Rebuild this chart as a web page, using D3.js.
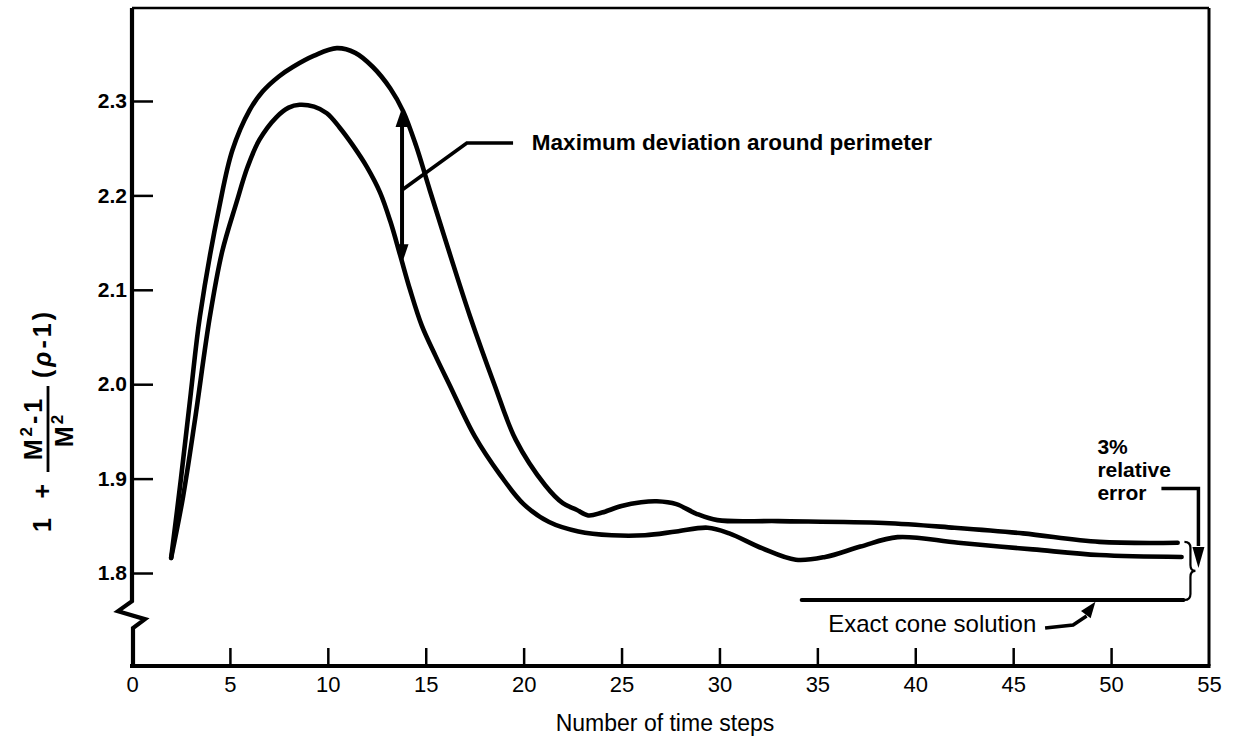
<!DOCTYPE html>
<html><head><meta charset="utf-8">
<script src="https://cdn.jsdelivr.net/npm/d3@7"></script>
<style>
body{margin:0;background:#fff}
svg{display:block}
text{font-family:"Liberation Sans",Arial,Helvetica,sans-serif;fill:#000}
</style>
</head><body>
<svg id="chart" width="1233" height="741"></svg>
<script>
// ---------------- data ----------------
const xTicks = [0, 5, 10, 15, 20, 25, 30, 35, 40, 45, 50, 55];
const yTicks = [1.8, 1.9, 2.0, 2.1, 2.2, 2.3];
const yTickLabels = ["1.8", "1.9", "2.0", "2.1", "2.2", "2.3"];

// upper curve (maximum around perimeter)
const upperX = [2.0, 2.5, 3.0, 3.47, 4.46, 5.13, 6.0, 6.67, 7.5, 8.21, 9.3, 10.46, 11.4, 12.3, 13.2, 13.85, 14.5, 15.2, 16.2, 17.26, 18.5, 19.6, 21.1, 22.0, 22.7, 23.3, 24.0, 25.0, 26.0, 26.8, 27.8, 28.8, 29.9, 33.0, 38.4, 42.0, 45.5, 49.4, 53.4];
const upperY = [1.816, 1.9, 1.99, 2.072, 2.188, 2.248, 2.29, 2.31, 2.326, 2.336, 2.348, 2.356, 2.351, 2.336, 2.313, 2.289, 2.253, 2.206, 2.14, 2.072, 2.0, 1.941, 1.893, 1.874, 1.867, 1.861, 1.864, 1.871, 1.875, 1.876, 1.873, 1.863, 1.856, 1.855, 1.853, 1.848, 1.842, 1.833, 1.832];

// lower curve (minimum around perimeter)
const lowerX = [2.0, 2.6, 3.2, 3.98, 4.6, 5.33, 5.9, 6.51, 7.38, 8.0, 8.56, 9.3, 9.95, 10.6, 11.28, 12.0, 12.67, 13.2, 13.69, 14.2, 14.8, 15.5, 16.2, 17.5, 18.8, 20.0, 21.3, 22.8, 24.5, 26.2, 27.8, 29.4, 30.5, 32.2, 33.9, 35.4, 37.2, 39.1, 42.2, 46.0, 49.4, 53.6];
const lowerY = [1.816, 1.88, 1.96, 2.072, 2.14, 2.192, 2.23, 2.259, 2.283, 2.293, 2.296, 2.294, 2.287, 2.272, 2.253, 2.23, 2.203, 2.172, 2.137, 2.1, 2.062, 2.03, 2.0, 1.945, 1.904, 1.873, 1.854, 1.844, 1.840, 1.840, 1.844, 1.848, 1.842, 1.826, 1.814, 1.817, 1.828, 1.838, 1.832, 1.825, 1.819, 1.817];

// exact cone solution
const exactValue = 1.7714;
const exactFrom = 34.2, exactTo = 53.7;

// annotation texts
const xTitle = "Number of time steps";
const devLabel = "Maximum deviation around perimeter";
const errLabel = ["3%", "relative", "error"];
const exactLabel = "Exact cone solution";

// ---------------- drawing ----------------
const svg = d3.select("#chart");
const x = d3.scaleLinear().domain([0, 55]).range([132, 1209]);
const y = d3.scaleLinear().domain([1.7015, 2.3985]).range([666, 8]);

const ink = "#000";

// frame
svg.append("line").attr("x1", x(0)).attr("x2", x(55)).attr("y1", y(2.3985)).attr("y2", y(2.3985))
  .attr("stroke", ink).attr("stroke-width", 2.5);
svg.append("line").attr("x1", x(55)).attr("x2", x(55)).attr("y1", y(2.3985)).attr("y2", y(1.7015))
  .attr("stroke", ink).attr("stroke-width", 3);
svg.append("line").attr("x1", x(0) - 2).attr("x2", x(55) + 1.5).attr("y1", y(1.7015)).attr("y2", y(1.7015))
  .attr("stroke", ink).attr("stroke-width", 4);
// left axis with break
const x0 = x(0);
svg.append("path")
  .attr("d", `M${x0},${y(2.3985)} V${y(1.7702)} L${x0 - 14},${y(1.7596)} L${x0 + 13},${y(1.7511)} L${x0 + 1},${y(1.7416)} V${y(1.7015)}`)
  .attr("fill", "none").attr("stroke", ink).attr("stroke-width", 4.2).attr("stroke-linejoin", "miter");

// axes (ticks inward)
const gx = svg.append("g").attr("transform", `translate(0,${y(1.7015)})`)
  .call(d3.axisBottom(x).tickValues(xTicks).tickSize(-18).tickPadding(10).tickFormat(d3.format("d")));
gx.select(".domain").remove();
gx.selectAll(".tick line").attr("stroke", ink).attr("stroke-width", 2.5);
gx.selectAll(".tick text").attr("font-size", 22).attr("font-family", "Liberation Sans, Arial, sans-serif").attr("fill", ink);
gx.selectAll(".tick").filter(d => d === 0 || d === 55).select("line").remove();

const gy = svg.append("g").attr("transform", `translate(${x0},0)`)
  .call(d3.axisLeft(y).tickValues(yTicks).tickSize(-21).tickPadding(5).tickFormat((d, i) => yTickLabels[i]));
gy.select(".domain").remove();
gy.selectAll(".tick line").attr("stroke", ink).attr("stroke-width", 2.5);
gy.selectAll(".tick text").attr("font-size", 21).attr("font-weight", "bold").attr("font-family", "Liberation Sans, Arial, sans-serif").attr("fill", ink);

// curves
const line = d3.line().x(d => x(d[0])).y(d => y(d[1])).curve(d3.curveCatmullRom.alpha(0.5));
const upper = upperX.map((v, i) => [v, upperY[i]]);
const lower = lowerX.map((v, i) => [v, lowerY[i]]);
[upper, lower].forEach(s => {
  svg.append("path").datum(s).attr("d", line)
    .attr("fill", "none").attr("stroke", ink).attr("stroke-width", 4.6)
    .attr("stroke-linecap", "round").attr("stroke-linejoin", "round");
});

// exact cone solution line
svg.append("line").attr("x1", x(exactFrom)).attr("x2", x(exactTo)).attr("y1", y(exactValue)).attr("y2", y(exactValue))
  .attr("stroke", ink).attr("stroke-width", 4).attr("stroke-linecap", "round");

// arrowhead helper
function head(tx, ty, dx, dy, len, half) {
  const m = Math.hypot(dx, dy), ux = dx / m, uy = dy / m;
  const bx = tx - ux * len, by = ty - uy * len;
  svg.append("path")
    .attr("d", `M${tx},${ty} L${bx - uy * half},${by + ux * half} L${bx + uy * half},${by - ux * half} Z`)
    .attr("fill", ink);
}

// maximum deviation double arrow
const ax = x(13.79), aTop = y(2.2926), aBot = y(2.128);
svg.append("line").attr("x1", ax).attr("x2", ax).attr("y1", aTop + 10).attr("y2", aBot - 10)
  .attr("stroke", ink).attr("stroke-width", 4);
head(ax, aTop, 0, -1, 19, 6.5);
head(ax, aBot, 0, 1, 19, 6.5);
// leader
svg.append("path")
  .attr("d", `M${ax},${y(2.2057)} L${x(17.1)},${y(2.2555)} L${x(19.46)},${y(2.2555)}`)
  .attr("fill", "none").attr("stroke", ink).attr("stroke-width", 3.6);
svg.append("text").attr("x", x(20.42)).attr("y", y(2.2555) + 7)
  .attr("font-size", 22.5).attr("font-weight", "bold").text(devLabel);

// 3% relative error
const ex = x(49.3);
errLabel.forEach((t, i) => {
  svg.append("text").attr("x", ex).attr("y", y(1.9263) + i * 23)
    .attr("font-size", 21).attr("font-weight", "bold").text(t);
});
const lx1 = x(52.57), lx2 = x(54.46), ly = y(1.8894);
svg.append("path").attr("d", `M${lx1},${ly} H${lx2} V${y(1.8286)}`)
  .attr("fill", "none").attr("stroke", ink).attr("stroke-width", 3.5);
head(lx2, y(1.8053), 0, 1, 21, 6);

// curly brace from curve ends down to the exact line
const bx = x(53.95), bTop = y(1.833), bBot = y(exactValue), bMid = (bTop + bBot) / 2;
svg.append("path")
  .attr("d", `M${bx - 4},${bTop} Q${bx + 2},${bTop} ${bx + 2},${bTop + 6} L${bx + 2},${bMid - 6} Q${bx + 2},${bMid} ${bx + 7},${bMid} Q${bx + 2},${bMid} ${bx + 2},${bMid + 6} L${bx + 2},${bBot - 6} Q${bx + 2},${bBot} ${bx - 4},${bBot}`)
  .attr("fill", "none").attr("stroke", ink).attr("stroke-width", 2.2);

// exact cone solution label and arrow
svg.append("text").attr("x", x(35.55)).attr("y", y(exactValue) + 32)
  .attr("font-size", 24).text(exactLabel);
svg.append("path").attr("d", `M${x(46.63)},${y(1.7417)} L${x(48.06)},${y(1.745)} L${x(48.75)},${y(1.7545)}`)
  .attr("fill", "none").attr("stroke", ink).attr("stroke-width", 3.5);
head(x(49.2), y(1.7695), 0.75, -1, 16, 6);

// x axis title
svg.append("text").attr("x", 665).attr("y", 731).attr("text-anchor", "middle")
  .attr("font-size", 23).text(xTitle);

// y axis title: 1 + (M^2-1)/M^2 (rho-1), rotated, reading upward
const yl = svg.append("g").attr("transform", "translate(47,540) rotate(-90)");
yl.append("text").attr("x", 8).attr("y", 4).attr("font-size", 25).attr("font-weight", "bold")
  .attr("textLength", 48).attr("lengthAdjust", "spacing").text("1 +");
const num = yl.append("text").attr("x", 112).attr("y", -5).attr("text-anchor", "middle").attr("font-size", 25).attr("font-weight", "bold")
  .attr("letter-spacing", 3);
num.append("tspan").text("M");
num.append("tspan").attr("font-size", 17).attr("dy", -10).text("2");
num.append("tspan").attr("dy", 10).text("-1");
yl.append("line").attr("x1", 68).attr("x2", 154).attr("y1", 1).attr("y2", 1).attr("stroke", ink).attr("stroke-width", 2.8);
const den = yl.append("text").attr("x", 110).attr("y", 26).attr("text-anchor", "middle").attr("font-size", 25).attr("font-weight", "bold")
  .attr("letter-spacing", 2);
den.append("tspan").text("M");
den.append("tspan").attr("font-size", 17).attr("dy", -10).text("2");
const rho = yl.append("text").attr("x", 162).attr("y", 4).attr("font-size", 25).attr("font-weight", "bold")
  .attr("letter-spacing", 3);
rho.append("tspan").text("(");
rho.append("tspan").attr("font-style", "italic").text("ρ");
rho.append("tspan").text("-1)");
</script>
</body></html>
